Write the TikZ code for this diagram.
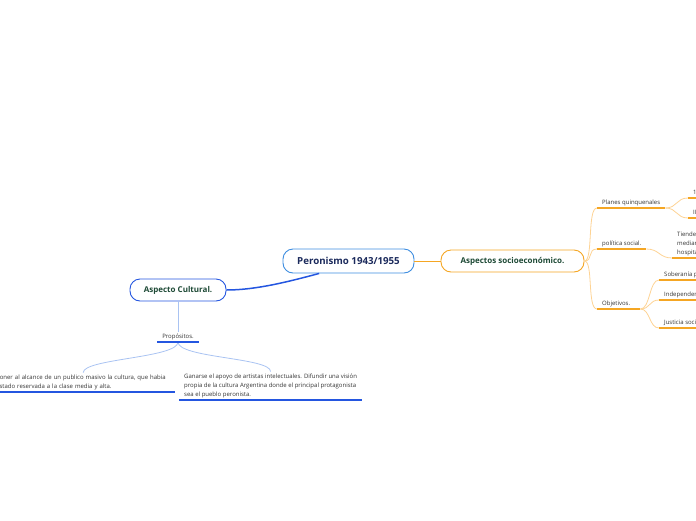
\documentclass[tikz,border=0pt]{standalone}
\usepackage{fontspec}
\setmainfont{Open Sans}
\definecolor{coreblue}{HTML}{3D8DE0}
\definecolor{culblue}{HTML}{2456E0}
\definecolor{paleblue}{HTML}{A9C3F2}
\definecolor{socorange}{HTML}{F5A623}
\definecolor{paleorange}{HTML}{FDD394}
\definecolor{navytext}{HTML}{1B2A5C}
\definecolor{leafgreen}{HTML}{1E4A36}
\definecolor{notegray}{HTML}{333333}

\begin{document}
\begin{tikzpicture}[x=1pt,y=-1pt,
  topic/.style={draw,fill=white,rounded corners=10pt,line width=0.9pt,
    font=\fontsize{8}{9}\selectfont\bfseries,text=leafgreen,inner sep=2pt},
  idea/.style={anchor=south west,inner xsep=5pt,inner ysep=2pt,align=left,
    font=\fontsize{6}{9}\selectfont,text=notegray},
  blueline/.style={culblue,line width=1.5pt},
  bluelink/.style={paleblue,line width=0.8pt},
  orline/.style={socorange,line width=1.6pt},
  orlink/.style={paleorange,line width=0.8pt}]
\useasboundingbox (0,0) rectangle (696,520);

% main topics
\node[topic,draw=coreblue,text=navytext,font=\fontsize{9.7}{11}\selectfont\bfseries,
  minimum width=131pt,minimum height=24pt] (core) at (348.5,261) {Peronismo 1943/1955};
\node[topic,draw=culblue,minimum width=96pt,minimum height=22pt] (cult) at (178,290) {Aspecto Cultural.};
\node[topic,draw=socorange,minimum width=143pt,minimum height=22pt] (soc) at (512.5,261) {Aspectos socioeconómico.};

% cultural side
\node[idea,anchor=south] (prop) at (178,342) {Propósitos.};
\node[idea,text width=174pt] (poner) at (-9,392) {Poner al alcance de un publico masivo la cultura, que habia\\estado reservada a la clase media y alta.};
\node[idea] (ganar) at (179,400) {Ganarse el apoyo de artistas intelectuales. Difundir una visión\\propia de la cultura Argentina donde el principal protagonista\\sea el pueblo peronista.};

% socioeconomic side
\node[idea] (planes) at (597,208) {Planes quinquenales};
\node[idea] (polsoc) at (597,249) {política social.};
\node[idea,text width=33pt] (objet) at (597,309) {Objetivos.};
\node[idea] (plan1) at (688,198) {1° Plan Quinquenal};
\node[idea] (plan2) at (688,218) {II Plan Quinquenal};
\node[idea] (tiende) at (672,258) {Tiende a la justicia social\\mediante la construcción de\\hospitales y escuelas.};
\node[idea] (sober) at (659,280) {Soberanía política};
\node[idea] (indep) at (659,300) {Independencia económica};
\node[idea] (justi) at (659,328) {Justicia social};

% links
\draw[blueline] (core.-157) .. controls +(-30,8) and +(30,0) .. (cult.east);
\draw[socorange,line width=1pt] (core.east) -- (soc.west);
\draw[bluelink] (cult.south) -- (prop.north);
\foreach \n in {poner,ganar}
  \draw[bluelink] (prop.south) .. controls +(0,16) and +(0,-14) .. (\n.north);
\foreach \n in {planes,polsoc,objet}
  \draw[orlink] (soc.east) .. controls +(9,0) and +(-10,0) .. (\n.south west);
\foreach \n in {plan1,plan2}
  \draw[orlink] (planes.south east) .. controls +(12,0) and +(-12,0) .. (\n.south west);
\draw[orlink] (polsoc.south east) .. controls +(13,0) and +(-13,0) .. (tiende.south west);
\foreach \n in {sober,indep,justi}
  \draw[orlink] (objet.south east) .. controls +(10,0) and +(-10,0) .. (\n.south west);

% underlines
\foreach \n in {prop,poner,ganar}
  \draw[blueline] (\n.south west) -- (\n.south east);
\foreach \n in {planes,polsoc,objet,plan1,plan2,tiende,sober,indep,justi}
  \draw[orline] (\n.south west) -- (\n.south east);
\end{tikzpicture}
\end{document}
